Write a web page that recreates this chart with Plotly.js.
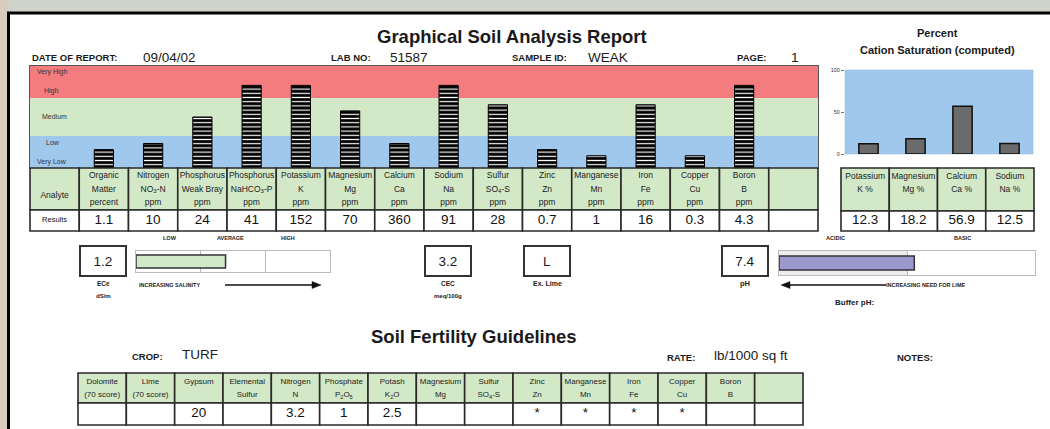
<!DOCTYPE html>
<html><head><meta charset="utf-8">
<script src="https://cdn.plot.ly/plotly-3.0.1.min.js"></script>
<style>html,body{margin:0;padding:0;background:#fff;overflow:hidden}#chart{width:1050px;height:429px;}</style>
</head><body><div id="chart"></div>
<script>
// ---------------- DATA ----------------
const analytes = ['Organic Matter','Nitrogen','Phosphorus Weak Bray','Phosphorus NaHCO3-P','Potassium','Magnesium','Calcium','Sodium','Sulfur','Zinc','Manganese','Iron','Copper','Boron'];
const analyteHeaders = ['Organic<br>Matter<br>percent','Nitrogen<br>NO<sub>3</sub>-N<br>ppm','Phosphorus<br>Weak Bray<br>ppm','Phosphorus<br>NaHCO<sub>3</sub>-P<br>ppm','Potassium<br>K<br>ppm','Magnesium<br>Mg<br>ppm','Calcium<br>Ca<br>ppm','Sodium<br>Na<br>ppm','Sulfur<br>SO<sub>4</sub>-S<br>ppm','Zinc<br>Zn<br>ppm','Manganese<br>Mn<br>ppm','Iron<br>Fe<br>ppm','Copper<br>Cu<br>ppm','Boron<br>B<br>ppm'];
const results = ['1.1','10','24','41','152','70','360','91','28','0.7','1','16','0.3','4.3'];
const levelScores = [18,24,50,81,81,56,24,81,62,18,12,62,12,81];
const bandNames = ['Very Low','Low','Medium','High','Very High'];
const bandLimits = [0,31.4,68.6,100];
const bandColors = ['#a0c8ec','#d2e8c7','#f47c7e'];

const cationNames = ['Potassium','Magnesium','Calcium','Sodium'];
const cationHeaders = ['Potassium<br>K %','Magnesium<br>Mg %','Calcium<br>Ca %','Sodium<br>Na %'];
const cationPct = [12.3,18.2,56.9,12.5];
const cationTicks = [0,50,100];

const eceValue = 1.2;
const salinityScale = [0,0.867,1.733,2.6];
const salinityLabels = ['LOW','AVERAGE','HIGH'];
const cecValue = '3.2';
const exLime = 'L';
const phValue = 7.4;
const phScale = [0,7,14];
const phLabels = ['ACIDIC','BASIC'];

const reportInfo = {date:'09/04/02', lab:'51587', sample:'WEAK', page:'1', crop:'TURF', rate:'lb/1000 sq ft'};

const guideNames = ['Dolomite','Lime','Gypsum','Elemental Sulfur','Nitrogen','Phosphate','Potash','Magnesium','Sulfur','Zinc','Manganese','Iron','Copper','Boron','(blank)'];
const guideHeaders = ['Dolomite<br>(70 score)','Lime<br>(70 score)','Gypsum<br>&nbsp;','Elemental<br>Sulfur','Nitrogen<br>N','Phosphate<br>P<sub>2</sub>O<sub>5</sub>','Potash<br>K<sub>2</sub>O','Magnesium<br>Mg','Sulfur<br>SO<sub>4</sub>-S','Zinc<br>Zn','Manganese<br>Mn','Iron<br>Fe','Copper<br>Cu','Boron<br>B',''];
const guideValues = ['','','20','','3.2','1','2.5','','','*','*','*','*','',''];

// ---------------- HELPERS ----------------
const W=1050,H=429;
const px=x=>x/W, py=y=>1-y/H;
const FONT='Liberation Sans, Arial, sans-serif';
const small=(t,s)=>t?t.split('<br>').map(l=>`<span style="font-size:${s}px">${l}</span>`).join('<br>'):'';
const B=t=>'<b>'+t+'</b>';
function txt(text,x,y,size,opts={}){
  return Object.assign({text:text,x:px(x),y:py(y),xref:'paper',yref:'paper',showarrow:false,
    xanchor:'center',yanchor:'middle',font:{family:FONT,size:size,color:'#1a1a1a'}},opts);
}
const hidden={showticklabels:false,ticks:'',showgrid:false,zeroline:false,fixedrange:true,showline:false};

function tableAxes(left,right,top,bottom,ncols,pad){
  const cw=(right-left)/ncols;
  return {
    x:{domain:[px(left-pad),px(right+pad)],range:[-0.5-pad/cw,ncols-0.5+pad/cw]},
    y:{domain:[py(bottom+pad),py(top-pad)],range:[bottom-top+pad,-pad]}
  };
}

const traces=[], shapes=[], ann=[];
const lineStyle={color:'#2a2a2a',width:1.6};
const GREEN='#d2e8c7';

function addTable(cats,xa,ya,headers,values,hh,rh,hfont,vfonts){
  const xr=xa.replace('axis',''), yr=ya.replace('axis','');
  cats.forEach((c,i)=>{
    shapes.push({type:'rect',xref:xr,yref:yr,x0:i-0.5,x1:i+0.5,y0:0,y1:hh,fillcolor:GREEN,line:lineStyle,layer:'below'});
    shapes.push({type:'rect',xref:xr,yref:yr,x0:i-0.5,x1:i+0.5,y0:hh,y1:hh+rh,fillcolor:'white',line:lineStyle,layer:'below'});
  });
  const hi=cats.map((c,i)=>i).filter(i=>headers[i]);
  traces.push({type:'scatter',mode:'text',x:hi.map(i=>cats[i]),y:hi.map(()=>hh/2),text:hi.map(i=>small(headers[i],hfont)),
    textposition:'middle center',textfont:{family:FONT,size:10.4,color:'#222'},xaxis:xr,yaxis:yr,hoverinfo:'skip',cliponaxis:false});
  const vi=cats.map((c,i)=>i).filter(i=>values[i]);
  const vf=Array.isArray(vfonts)?vi.map(i=>vfonts[i]):vfonts;
  traces.push({type:'scatter',mode:'text',x:vi.map(i=>cats[i]),y:vi.map(()=>hh+rh/2),text:vi.map(i=>values[i]),
    textposition:'middle center',textfont:{family:FONT,size:vf,color:'#111'},xaxis:xr,yaxis:yr,hoverinfo:'skip',cliponaxis:false});
}

// ---------------- BARS ----------------
const mainCats=['Analyte'].concat(analytes).concat(['(blank)']);
traces.push({type:'bar',x:analytes,y:levelScores,xaxis:'x',yaxis:'y',width:0.39,hoverinfo:'skip',
  marker:{color:'black',line:{color:'black',width:1},
    pattern:{shape:'-',bgcolor:'black',fgcolor:'white',size:4.2,solidity:0.28}}});
traces.push({type:'bar',x:cationNames,y:cationPct,xaxis:'x2',yaxis:'y2',width:0.41,hoverinfo:'skip',
  marker:{color:'#6b6b6b',line:{color:'#111',width:1.5}}});
traces.push({type:'bar',orientation:'h',x:[eceValue],y:['ECe'],xaxis:'x3',yaxis:'y3',width:0.62,hoverinfo:'skip',
  marker:{color:'#d2e8c7',line:{color:'#333',width:1.5}}});
traces.push({type:'bar',orientation:'h',x:[phValue],y:['pH'],xaxis:'x4',yaxis:'y4',width:0.58,hoverinfo:'skip',
  marker:{color:'#9a98cc',line:{color:'#333',width:1.5}}});

// ---------------- TABLES ----------------
const tMain=tableAxes(30,818,168,231,16,2);
addTable(mainCats,'xaxis5','yaxis5',['<br>Analyte'].concat(analyteHeaders).concat(['']),
  ['Results'].concat(results).concat(['']),42,21,8.5,[7.5].concat(results.map(()=>13.5)).concat([13.5]));
const tCat=tableAxes(841,1034,168,231,4,2);
addTable(cationNames,'xaxis6','yaxis6',cationHeaders.map(h=>h+'<br>&nbsp;'),cationPct.map(v=>v.toFixed(1)),43,20,8.5,13.5);
const tGuide=tableAxes(78,803,373,425,15,2);
addTable(guideNames,'xaxis7','yaxis7',guideHeaders,guideValues,30,22,8,13.5);

// ---------------- SHAPES ----------------
shapes.push({type:'rect',xref:'paper',yref:'paper',x0:px(8),x1:1.01,y0:-0.01,y1:py(12),fillcolor:'white',line:{width:0},layer:'below'});
shapes.push({type:'rect',xref:'paper',yref:'paper',x0:px(8),x1:1.01,y0:py(12),y1:1.01,fillcolor:'#cfd3ca',line:{width:0},layer:'below'});
shapes.push({type:'line',xref:'paper',yref:'paper',x0:px(7),x1:1.01,y0:py(13),y1:py(13),line:{color:'#000',width:3}});
shapes.push({type:'line',xref:'paper',yref:'paper',x0:px(8.5),x1:px(8.5),y0:py(12),y1:-0.01,line:{color:'#000',width:3}});
for(let i=0;i<3;i++){
  shapes.push({type:'rect',xref:'x domain',yref:'y',x0:0,x1:1,y0:bandLimits[i],y1:bandLimits[i+1],
    fillcolor:bandColors[i],line:{width:0},layer:'below'});
}
shapes.push({type:'rect',xref:'x2 domain',yref:'y2 domain',x0:0,x1:1,y0:0,y1:1,fillcolor:'#a0c8ec',line:{color:'#8fb5d6',width:0.5},layer:'below'});
shapes.push({type:'rect',xref:'x4',yref:'y4 domain',x0:phScale[0],x1:phScale[1],y0:0,y1:1,fillcolor:'#ececec',line:{width:0},layer:'below'});
// arrows as line shapes with arrowheads via annotations-free paths
shapes.push({type:'line',xref:'paper',yref:'paper',x0:px(225),x1:px(314),y0:py(285),y1:py(285),line:{color:'#111',width:1.3}});
shapes.push({type:'path',xref:'paper',yref:'paper',path:`M${px(321)},${py(285)} L${px(312)},${py(281.5)} L${px(312)},${py(288.5)} Z`,fillcolor:'#111',line:{color:'#111',width:0.5}});
shapes.push({type:'line',xref:'paper',yref:'paper',x0:px(788),x1:px(886),y0:py(285),y1:py(285),line:{color:'#111',width:1.3}});
shapes.push({type:'path',xref:'paper',yref:'paper',path:`M${px(781)},${py(285)} L${px(790)},${py(281.5)} L${px(790)},${py(288.5)} Z`,fillcolor:'#111',line:{color:'#111',width:0.5}});

// ---------------- ANNOTATIONS ----------------
ann.push(txt(B('Graphical Soil Analysis Report'),512,36,18.5));
ann.push(txt(B('Percent'),937,33,11));
ann.push(txt(B('Cation Saturation (computed)'),937,50,11));
ann.push(txt(B('DATE OF REPORT:'),30,58,9.5,{xanchor:'left'}));
ann.push(txt(reportInfo.date,141,57,13.5,{xanchor:'left'}));
ann.push(txt(B('LAB NO:'),329,58,9.5,{xanchor:'left'}));
ann.push(txt(reportInfo.lab,388,57,13.5,{xanchor:'left'}));
ann.push(txt(B('SAMPLE ID:'),510,58,9.5,{xanchor:'left'}));
ann.push(txt(reportInfo.sample,586,57,13.5,{xanchor:'left'}));
ann.push(txt(B('PAGE:'),735,58,9.5,{xanchor:'left'}));
ann.push(txt(reportInfo.page,789,57,13.5,{xanchor:'left'}));
const bandLabelPos=[[35,162,'left'],[53,143,'center'],[54,117,'center'],[51,91,'center'],[35,72,'left']];
bandNames.forEach((n,i)=>{const p=bandLabelPos[i];ann.push(txt(n,p[0],p[1],7,{xanchor:p[2],font:{family:FONT,size:7,color:'#333'}}));});
const box=(t,x)=>txt(t,x,261,13.5,{width:42,height:26,borderwidth:2,borderpad:1,bordercolor:'#333',bgcolor:'white'});
ann.push(box(eceValue.toFixed(1),103));
ann.push(box(cecValue,448));
ann.push(box(exLime,547));
ann.push(box(phValue.toFixed(1),745));
ann.push(txt(B('ECe'),103,283,6.5));
ann.push(txt(B('dS/m'),103,296,6));
ann.push(txt(B('CEC'),448,283,6.5));
ann.push(txt(B('meq/100g'),448,296,6));
ann.push(txt(B('Ex. Lime'),547,283,7));
ann.push(txt(B('pH'),745,283,7.5));
[170,230,288].forEach((x,i)=>ann.push(txt(B(salinityLabels[i]),x,238,5.5)));
ann.push(txt(B('INCREASING SALINITY'),137,285,5.5,{xanchor:'left'}));
[835,962].forEach((x,i)=>ann.push(txt(B(phLabels[i]),x,238,5.5)));
ann.push(txt(B('INCREASING NEED FOR LIME'),884,285,5.5,{xanchor:'left'}));
ann.push(txt(B('Buffer pH:'),833,302,8,{xanchor:'left'}));
ann.push(txt(B('Soil Fertility Guidelines'),474,336,18.5));
ann.push(txt(B('CROP:'),130,356,9.5,{xanchor:'left'}));
ann.push(txt(reportInfo.crop,180,354,13.5,{xanchor:'left'}));
ann.push(txt(B('RATE:'),665,357,9.5,{xanchor:'left'}));
ann.push(txt(reportInfo.rate,712,355,13.5,{xanchor:'left'}));
ann.push(txt(B('NOTES:'),895,357,9.5,{xanchor:'left'}));

// ---------------- LAYOUT ----------------
const A=(o)=>Object.assign({},hidden,o);
const layout={
  width:W,height:H,margin:{l:0,r:0,t:0,b:0},showlegend:false,
  paper_bgcolor:'#d9cbbd',plot_bgcolor:'rgba(0,0,0,0)',font:{family:FONT},
  xaxis:A({domain:[px(30),px(818)],range:[-0.5,15.5],type:'category',categoryorder:'array',categoryarray:mainCats,anchor:'y',showline:true,mirror:true,linecolor:'#555',linewidth:1.2}),
  yaxis:A({domain:[py(168),py(66)],range:[0,100],anchor:'x',showline:true,mirror:true,linecolor:'#555',linewidth:1.2}),
  xaxis2:A({domain:[px(845),px(1033)],range:[-0.5,3.5],type:'category',anchor:'y2'}),
  yaxis2:A({domain:[py(154),py(70)],range:[0,100],anchor:'x2',showticklabels:true,tickvals:cationTicks,
    ticks:'outside',ticklen:3,tickcolor:'#777',tickfont:{family:FONT,size:5.5,color:'#333'}}),
  xaxis3:A({domain:[px(136),px(330)],range:[salinityScale[0],salinityScale[3]],anchor:'y3',
    showgrid:true,gridcolor:'#bbb',gridwidth:1,tickvals:salinityScale.slice(1,3),showline:true,mirror:true,linecolor:'#bbb'}),
  yaxis3:A({domain:[py(272),py(251)],range:[-0.5,0.5],type:'category',anchor:'x3',showline:true,mirror:true,linecolor:'#bbb'}),
  xaxis4:A({domain:[px(779),px(1035)],range:[phScale[0],phScale[2]],anchor:'y4',
    showgrid:true,gridcolor:'#bbb',gridwidth:1,tickvals:[phScale[1]],showline:true,mirror:true,linecolor:'#bbb'}),
  yaxis4:A({domain:[py(275),py(251)],range:[-0.5,0.5],type:'category',anchor:'x4',showline:true,mirror:true,linecolor:'#bbb'}),
  xaxis5:A(Object.assign(tMain.x,{type:'category',categoryorder:'array',categoryarray:mainCats,anchor:'y5'})),
  yaxis5:A(Object.assign(tMain.y,{anchor:'x5'})),
  xaxis6:A(Object.assign(tCat.x,{type:'category',categoryorder:'array',categoryarray:cationNames,anchor:'y6'})),
  yaxis6:A(Object.assign(tCat.y,{anchor:'x6'})),
  xaxis7:A(Object.assign(tGuide.x,{type:'category',categoryorder:'array',categoryarray:guideNames,anchor:'y7'})),
  yaxis7:A(Object.assign(tGuide.y,{anchor:'x7'})),
  shapes:shapes,annotations:ann
};
Plotly.newPlot('chart',traces,layout,{staticPlot:true,displayModeBar:false});
</script></body></html>
